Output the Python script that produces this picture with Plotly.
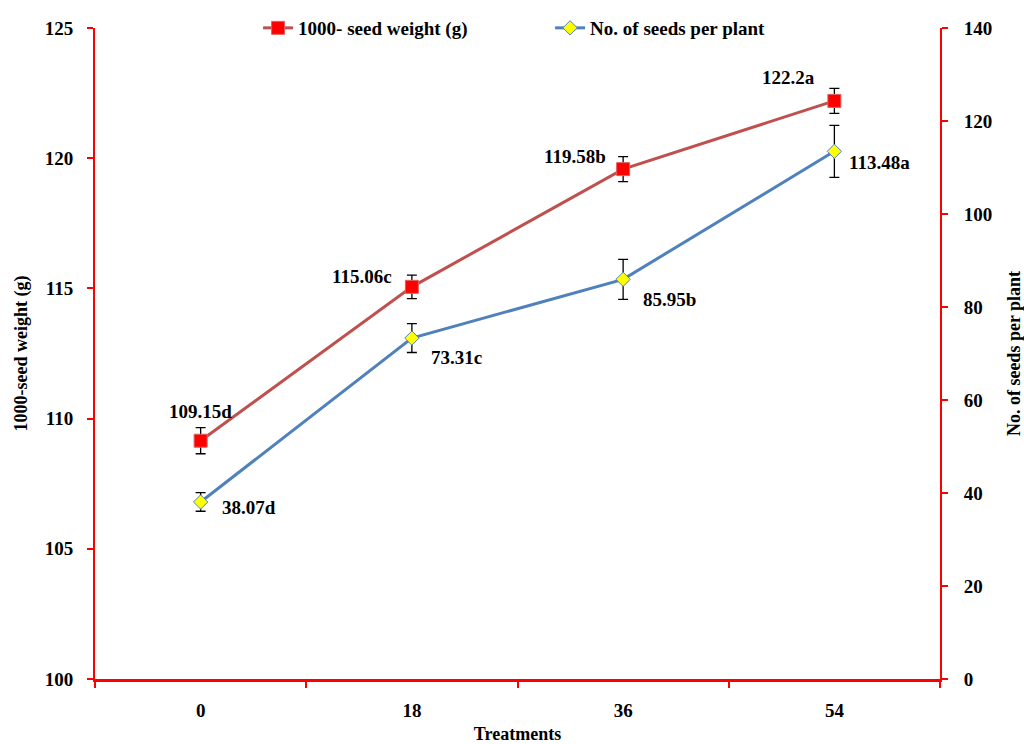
import plotly.graph_objects as go

treatments = ["0", "18", "36", "54"]
seed_weight = [109.15, 115.06, 119.58, 122.2]
seed_weight_err = [0.5, 0.45, 0.48, 0.48]
seed_weight_labels = ["109.15d", "115.06c", "119.58b", "122.2a"]
seeds_per_plant = [38.07, 73.31, 85.95, 113.48]
seeds_per_plant_err = [2.0, 3.1, 4.3, 5.6]
seeds_per_plant_labels = ["38.07d", "73.31c", "85.95b", "113.48a"]

FONT = "Liberation Serif"
fig = go.Figure()
fig.add_trace(go.Scatter(
    x=treatments, y=seed_weight, name="1000- seed weight (g)",
    mode="lines+markers",
    line=dict(color="#C0504D", width=3),
    marker=dict(symbol="square", size=13, color="#FF0000", line=dict(color="#E06060", width=1)),
    error_y=dict(type="data", array=seed_weight_err, color="black", thickness=1.3, width=5),
    yaxis="y"))
fig.add_trace(go.Scatter(
    x=treatments, y=seeds_per_plant, name="No. of seeds per plant",
    mode="lines+markers",
    line=dict(color="#4F81BD", width=3),
    marker=dict(symbol="diamond", size=11, color="#FFFF00", line=dict(color="#4F81BD", width=1)),
    error_y=dict(type="data", array=seeds_per_plant_err, color="black", thickness=1.3, width=5),
    yaxis="y2"))

ann = []
lab_font = dict(family=FONT, size=19, color="black", weight="bold")
red_offsets = [(0, 29), (-50, 10), (-48, 13), (-46, 23)]
for i, (y, t, (dx, dy)) in enumerate(zip(seed_weight, seed_weight_labels, red_offsets)):
    ann.append(dict(x=i, y=y, xref="x", yref="y", text=t, showarrow=False,
                    xshift=dx, yshift=dy, font=lab_font))
blue_offsets = [(48, -6), (45, -19), (46, -20), (45, -11)]
for i, (y, t, (dx, dy)) in enumerate(zip(seeds_per_plant, seeds_per_plant_labels, blue_offsets)):
    ann.append(dict(x=i, y=y, xref="x", yref="y2", text=t, showarrow=False,
                    xshift=dx, yshift=dy, font=lab_font))

tick_font = dict(family=FONT, size=19, color="black", weight="bold")
title_font = dict(family=FONT, size=18, color="black", weight="bold")
fig.update_layout(
    width=1024, height=744,
    margin=dict(l=95, r=84, t=28, b=65, autoexpand=False),
    plot_bgcolor="white", paper_bgcolor="white",
    font=dict(family=FONT, size=16, color="black", weight="bold"),
    showlegend=True,
    legend=dict(orientation="h", x=0.193, xanchor="left", y=1.0, yanchor="middle",
                font=dict(family=FONT, size=19, color="black", weight="bold"),
                bgcolor="rgba(0,0,0,0)", itemwidth=30, entrywidth=247, entrywidthmode="pixels"),
    xaxis=dict(type="category", range=[-0.5, 3.5], showline=True, linecolor="#FF0000", linewidth=3,
               ticks="outside", tickson="boundaries", tickcolor="#FF0000", ticklen=6, tickwidth=2,
               showgrid=False, zeroline=False, ticklabelstandoff=12,
               title=dict(text="Treatments", font=title_font, standoff=10),
               tickfont=tick_font),
    yaxis=dict(range=[100, 125], dtick=5, showline=True, linecolor="#FF0000", linewidth=2,
               ticks="outside", tickcolor="#FF0000", ticklen=6, tickwidth=2,
               showgrid=False, zeroline=False, ticklabelstandoff=10,
               title=dict(text="1000-seed weight (g)", font=title_font, standoff=12),
               tickfont=tick_font),
    yaxis2=dict(range=[0, 140], dtick=20, overlaying="y", side="right", showline=True,
                linecolor="#FF0000", linewidth=2, ticks="outside", tickcolor="#FF0000",
                ticklen=6, tickwidth=2, showgrid=False, zeroline=False, ticklabelstandoff=12,
                title=dict(text="No. of seeds per plant", font=title_font, standoff=16),
                tickfont=tick_font),
    annotations=ann,
)
fig.write_html("out.html")
